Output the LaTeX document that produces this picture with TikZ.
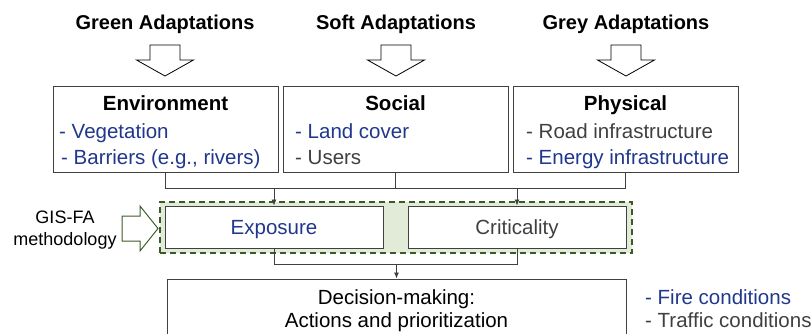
\documentclass[tikz,border=0pt]{standalone}
\usepackage{fontspec}
\setmainfont{Liberation Sans}
\usetikzlibrary{arrows.meta}

\definecolor{itemblue}{RGB}{32,56,140}
\definecolor{itemgrey}{RGB}{64,64,64}
\definecolor{groupfill}{RGB}{226,235,215}
\definecolor{groupline}{RGB}{60,90,40}

\tikzset{
  header/.style={anchor=base, inner sep=0, font=\fontsize{20}{24}\selectfont\bfseries},
  hollow/.style={draw=black, line width=0.8pt, fill=white, line join=miter},
  catbox/.style={draw=itemgrey, line width=1pt, fill=white, inner sep=0,
    minimum width=225pt, minimum height=86pt},
  title/.style={anchor=base, inner sep=0, font=\fontsize{20.5}{24}\selectfont\bfseries},
  item/.style={anchor=base west, inner sep=0, font=\fontsize{20.5}{24}\selectfont},
  group/.style={draw=groupline, fill=groupfill, line width=1.2pt,
    dash pattern=on 6pt off 4pt, inner sep=0, minimum width=472pt, minimum height=51pt},
  metric/.style={draw=itemgrey, line width=1pt, fill=white, inner sep=0,
    minimum width=218pt, minimum height=42pt, text height=15pt, text depth=0pt,
    font=\fontsize{20.5}{24}\selectfont},
  gisarrow/.style={draw=groupline, line width=1pt, fill=white, line join=miter},
  gistext/.style={anchor=base, inner sep=0, font=\fontsize{18}{22}\selectfont},
  link/.style={draw=itemgrey, line width=0.8pt},
  decbox/.style={draw=itemgrey, line width=1pt, fill=white, inner sep=0,
    minimum width=459pt, minimum height=80pt}
}

\begin{document}
\begin{tikzpicture}[x=1pt, y=-1pt, >={Latex[length=6pt,width=5pt]}]
  \clip (0,0) rectangle (812,333);

  % adaptations
  \foreach \h/\x in {Green/165, Soft/396, Grey/626} {
    \node [header] (head-\h) at (\x,29) {\h\ Adaptations};
    \draw [hollow] (\x-15,45) -- (\x+15,45) -- (\x+15,60) -- (\x+28.5,60)
      -- (\x,76) -- (\x-28.5,60) -- (\x-15,60) -- cycle;
  }

  % categories
  \foreach \n/\t [count=\i from 0] in {env/Environment, soc/Social, phy/Physical} {
    \node [catbox] (\n) at (165.5+230*\i,129) {};
    \node [title] (\n-title) at (165.5+230*\i,110) {\t};
  }
  \node [item, text=itemblue] (env-1) at (59,138) {- Vegetation};
  \node [item, text=itemblue] (env-2) at (61,164) {- Barriers (e.g., rivers)};
  \node [item, text=itemblue] (soc-1) at (295,138) {- Land cover};
  \node [item, text=itemgrey] (soc-2) at (295,164) {- Users};
  \node [item, text=itemgrey] (phy-1) at (526,138) {- Road infrastructure};
  \node [item, text=itemblue] (phy-2) at (526,164) {- Energy infrastructure};

  % GIS-FA group
  \node [group] (group) at (396,227.5) {};
  \node [metric, text=itemblue] (exp) at (274,227) {Exposure};
  \node [metric, text=itemgrey] (crit) at (517,227) {Criticality};
  \draw [gisarrow] (122,216) -- (140,216) -- (140,206) -- (158,228.5)
    -- (140,251) -- (140,241) -- (122,241) -- cycle;
  \node [gistext] (gis-1) at (65,223) {GIS-FA};
  \node [gistext] (gis-2) at (65,245) {methodology};

  % decision
  \node [decbox] (dec) at (396.5,319) {};
  \node [title, font=\fontsize{20.5}{24}\selectfont] (dec-1) at (396.5,304) {Decision-making:};
  \node [title, font=\fontsize{20.5}{24}\selectfont] (dec-2) at (396.5,327) {Actions and prioritization};
  \node [item, text=itemblue] (cond-1) at (645,304) {- Fire conditions};
  \node [item, text=itemgrey] (cond-2) at (645,327) {- Traffic conditions};

  % links
  \draw [link] (env.south) -- ++(0,16) coordinate (bus) -| (phy.south);
  \draw [link] (soc.south) -- (soc.south |- bus);
  \draw [link, ->] (exp.north |- bus) -- (exp.north);
  \draw [link, ->] (crit.north |- bus) -- (crit.north);
  \draw [link] (exp.south) -- ++(0,16) coordinate (merge) -| (crit.south);
  \draw [link, ->] (dec.north |- merge) -- (dec.north);
\end{tikzpicture}
\end{document}
